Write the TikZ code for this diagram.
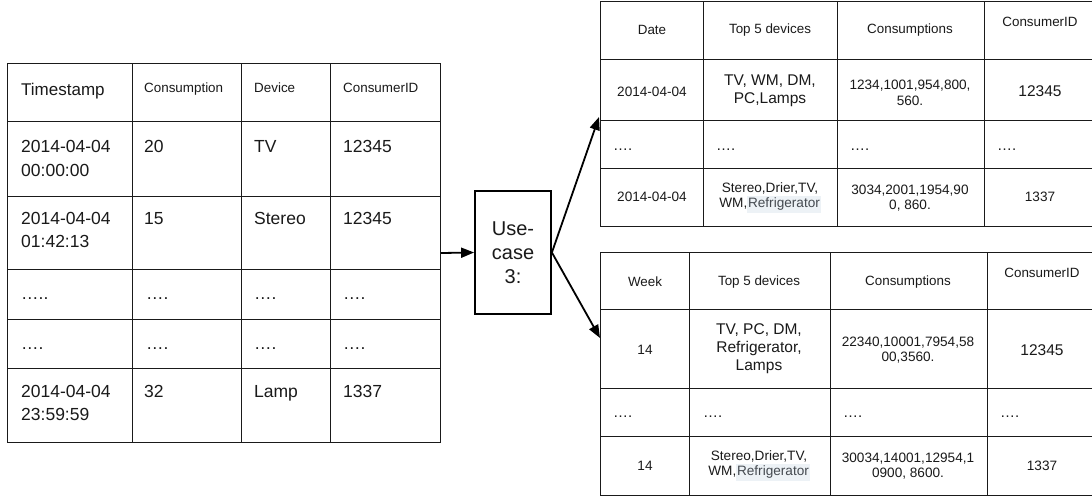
\documentclass[tikz,border=0pt]{standalone}
\usepackage{fontspec}
\setmainfont{Liberation Sans}
\usetikzlibrary{arrows.meta}
\definecolor{ink}{HTML}{1A1A1A}
\definecolor{hlbg}{HTML}{EDF2F6}
\definecolor{hltxt}{HTML}{454A50}
\newcommand{\hlref}[1]{{\setlength{\fboxsep}{0.8pt}\colorbox{hlbg}{\textcolor{hltxt}{\strut #1}}}}
\begin{document}
\begin{tikzpicture}[x=1pt,y=-1pt,
  grid/.style={line width=1pt, draw=ink},
  tbl/.style={grid, inner sep=0pt, anchor=north west},
  txt/.style={inner sep=0pt, text=ink},
  big/.style={txt, font=\fontsize{17.5}{23.5}\selectfont, align=left, anchor=north west},
  bighd/.style={txt, font=\fontsize{17}{20}\selectfont, anchor=base west},
  hs/.style={txt, font=\fontsize{13.4}{16}\selectfont, align=center},
  hsl/.style={txt, font=\fontsize{13.4}{16}\selectfont, anchor=base west},
  cs/.style={txt, font=\fontsize{13.6}{15.5}\selectfont, align=center},
  dv/.style={txt, font=\fontsize{15.5}{18}\selectfont, align=center},
  dotsl/.style={txt, font=\fontsize{17.5}{20}\selectfont, anchor=base west},
  dotsr/.style={txt, font=\fontsize{15}{18}\selectfont, anchor=base west},
  arr/.style={line width=1.8pt, draw=black, -{Triangle[length=13pt,width=10pt]}}]
\useasboundingbox (0,0) rectangle (1092,496);
\clip (0,0) rectangle (1092,496);
\fill[white] (0,0) rectangle (1092,496);

% ---------- left table ----------
\node[tbl, minimum width=433pt, minimum height=379pt] (L) at (7,63) {};
\foreach \x in {132,241,330} \draw[grid] (\x,63) -- (\x,442);
\foreach \y in {121,196,269,319,368} \draw[grid] (7,\y) -- (440,\y);

\node[bighd] (Lh1) at (21,95) {Timestamp};
\node[hsl] (Lh2) at (144,92) {Consumption};
\node[hsl] (Lh3) at (254,92) {Device};
\node[hsl] (Lh4) at (343,92) {ConsumerID};

\node[big] (L11) at (21,140.5) {2014-04-04\\00:00:00};
\node[big] (L12) at (144,140.5) {20};
\node[big] (L13) at (254,140.5) {TV};
\node[big] (L14) at (343,140.5) {12345};

\node[big] (L21) at (21,212) {2014-04-04\\01:42:13};
\node[big] (L22) at (144,212) {15};
\node[big] (L23) at (254,212) {Stereo};
\node[big] (L24) at (343,212) {12345};

\node[dotsl] (L31) at (21,299) {…..};
\node[dotsl] (L32) at (146,299) {….};
\node[dotsl] (L33) at (254,299) {….};
\node[dotsl] (L34) at (343,299) {….};

\node[dotsl] (L41) at (21,349) {….};
\node[dotsl] (L42) at (146,349) {….};
\node[dotsl] (L43) at (254,349) {….};
\node[dotsl] (L44) at (343,349) {….};

\node[big] (L51) at (21,385) {2014-04-04\\23:59:59};
\node[big] (L52) at (144,385) {32};
\node[big] (L53) at (254,385) {Lamp};
\node[big] (L54) at (343,385) {1337};

% ---------- use case box ----------
\node[draw=black, line width=1.8pt, minimum width=76pt, minimum height=123pt,
      inner sep=0pt, align=center, text=ink,
      font=\fontsize{20}{24}\selectfont] (uc) at (513,252.5) {Use-\\case\\3:};

% ---------- top right table ----------
\node[tbl, minimum width=497pt, minimum height=225pt] (T) at (600,1) {};
\foreach \x in {703,837,984} \draw[grid] (\x,1) -- (\x,226);
\foreach \y in {59,120,168} \draw[grid] (600,\y) -- (1097,\y);

\node[hs] (Th1) at (652,30) {Date};
\node[hs] (Th2) at (770,30) {Top 5 devices};
\node[hs] (Th3) at (910,30) {Consumptions};
\node[hs] (Th4) at (1040,22) {ConsumerID};

\node[cs] (T11) at (652,92) {2014-04-04};
\node[dv] (T12) at (770,91) {TV, WM, DM,\\PC,Lamps};
\node[cs] (T13) at (910,93) {1234,1001,954,800,\\560.};
\node[dv] (T14) at (1040,91) {12345};

\node[dotsr] (T21) at (613,150) {….};
\node[dotsr] (T22) at (716,150) {….};
\node[dotsr] (T23) at (850,150) {….};
\node[dotsr] (T24) at (997,150) {….};

\node[cs] (T31) at (652,197) {2014-04-04};
\node[cs] (T32) at (770,198) {Stereo,Drier,TV,\\WM,\hlref{Refrigerator}};
\node[cs] (T33) at (910,198) {3034,2001,1954,90\\0, 860.};
\node[cs] (T34) at (1040,197) {1337};

% ---------- bottom right table ----------
\node[tbl, minimum width=497pt, minimum height=243pt] (B) at (600,252) {};
\foreach \x in {689,830,987} \draw[grid] (\x,252) -- (\x,495);
\foreach \y in {309,388,436} \draw[grid] (600,\y) -- (1097,\y);

\node[hs] (Bh1) at (645,282) {Week};
\node[hs] (Bh2) at (759,282) {Top 5 devices};
\node[hs] (Bh3) at (908,282) {Consumptions};
\node[hs] (Bh4) at (1042,273) {ConsumerID};

\node[cs] (B11) at (645,350) {14};
\node[dv] (B12) at (759,349) {TV, PC, DM,\\Refrigerator,\\Lamps};
\node[cs] (B13) at (908,350) {22340,10001,7954,58\\00,3560.};
\node[dv] (B14) at (1042,350) {12345};

\node[dotsr] (B21) at (613,417) {….};
\node[dotsr] (B22) at (703,417) {….};
\node[dotsr] (B23) at (843,417) {….};
\node[dotsr] (B24) at (1000,417) {….};

\node[cs] (B31) at (645,466) {14};
\node[cs] (B32) at (759,466) {Stereo,Drier,TV,\\WM,\hlref{Refrigerator}};
\node[cs] (B33) at (908,466) {30034,14001,12954,1\\0900, 8600.};
\node[cs] (B34) at (1042,466) {1337};

% ---------- connectors ----------
\coordinate (tA) at (599,117);
\coordinate (tB) at (600,338);
\draw[arr] (L.east) -- (uc.west);
\draw[arr] (uc.east) -- (tA);
\draw[arr] (uc.east) -- (tB);
\end{tikzpicture}
\end{document}
